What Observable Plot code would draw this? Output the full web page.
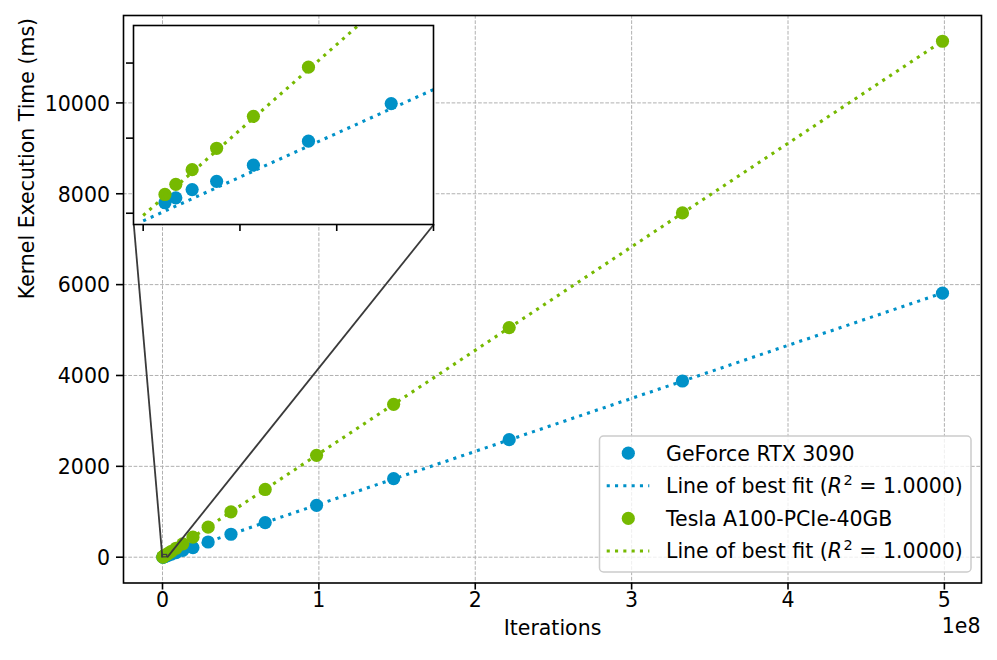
<!DOCTYPE html>
<html>
<head>
<meta charset="utf-8">
<script src="https://cdn.jsdelivr.net/npm/d3@7"></script>
<script src="https://cdn.jsdelivr.net/npm/@observablehq/plot@0.6"></script>
<style>
html, body { margin: 0; padding: 0; background: #fff; }
#wrap { position: relative; width: 997px; height: 660px; font-family: "DejaVu Sans", sans-serif; }
#wrap svg { position: absolute; overflow: visible; max-width: none; }
</style>
</head>
<body>
<div id="wrap"></div>
<script>
// ---------- data ----------
const iterations = [224900, 337300, 506000, 759000, 1139000, 1708000, 2563000, 3844000, 5766000, 8649000,
  12970000, 19460000, 29190000, 43790000, 65680000, 98520000, 147800000, 221700000, 332500000, 498800000];
const rtx3090Ms = [2.8, 4.1, 6.3, 8.5, 12.8, 19.2, 29.2, 44, 66.5, 100,
  150, 212, 334, 505, 762, 1142, 1728, 2588, 3878, 5811];
const a100Ms = [5.0, 7.7, 11.6, 17.3, 25.8, 38.9, 58.4, 87.5, 131, 197,
  295, 441, 661, 998, 1491, 2242, 3364, 5054, 7578, 11357];
const seriesNames = ["GeForce RTX 3090", "Tesla A100-PCIe-40GB"];
const seriesColors = ["#0091c8", "#76b900"];
const xTicks = [0, 1e8, 2e8, 3e8, 4e8, 5e8];
const yTicks = [0, 2000, 4000, 6000, 8000, 10000];
const insetXTicks = [0, 1e6, 2e6, 3e6];
const insetYTicks = [0, 20, 40];
const xLabel = "Iterations";
const yLabel = "Kernel Execution Time (ms)";
const offsetLabel = "1e8";

// ---------- layout ----------
const W = 997, H = 660;
const mL = 123, mR = 16, mT = 15, mB = 77.5;
const xDomain = [-2.494e7, 5.2374e8];
const yDomain = [-568, 11924];
const insetXDomain = [-1e5, 3e6];
const insetYDomain = [-3, 50];
const insetLeft = 133.3, insetTop = 25, insetW = 300, insetH = 199;
const iM = {l: 10, r: 1, t: 1, b: 10};
const FS = 20.5;

const gridStyle = {stroke: "#b0b0b0", strokeOpacity: 1, strokeWidth: 1, strokeDasharray: "3.7,1.6"};
const dotR = 6.6;
const fitStyle = {strokeWidth: 3.1, strokeDasharray: "3.1,5.2", strokeLinecap: "butt"};

// ---------- derived tables ----------
const series = [rtx3090Ms, a100Ms].map((vals, i) => {
  const pts = iterations.map((x, j) => ({iter: x, ms: vals[j], name: seriesNames[i]}));
  const mx = d3.mean(pts, d => d.iter), my = d3.mean(pts, d => d.ms);
  let sxy = 0, sxx = 0, syy = 0;
  for (const d of pts) { sxy += (d.iter - mx) * (d.ms - my); sxx += (d.iter - mx) ** 2; syy += (d.ms - my) ** 2; }
  const slope = sxy / sxx, icpt = my - slope * mx;
  const r2 = (sxy * sxy) / (sxx * syy);
  const fit = [0, d3.max(iterations)].map(x => ({iter: x, ms: icpt + slope * x}));
  return {name: seriesNames[i], color: seriesColors[i], pts, fit, r2};
});

const seriesMarks = (clip) => series.flatMap(s => [
  Plot.dot(s.pts, {x: "iter", y: "ms", r: dotR, fill: s.color, stroke: "none", clip}),
  Plot.line(s.fit, {x: "iter", y: "ms", stroke: s.color, ...fitStyle, clip})
]);

// main scales for connector conversion (same mapping as Plot)
const xs = d3.scaleLinear(xDomain, [mL, W - mR]);
const ys = d3.scaleLinear(yDomain, [H - mB, mT]);
const insetBottom = insetTop + insetH;
const connectors = [
  {x1: xs.invert(insetLeft), y1: ys.invert(insetBottom), x2: insetXDomain[0], y2: insetYDomain[0]},
  {x1: xs.invert(insetLeft + insetW), y1: ys.invert(insetBottom), x2: insetXDomain[1], y2: insetYDomain[0]}
];
const zoomBox = [{x1: insetXDomain[0], x2: insetXDomain[1], y1: insetYDomain[0], y2: insetYDomain[1]}];

// ---------- main chart ----------
const main = Plot.plot({
  width: W, height: H,
  marginLeft: mL, marginRight: mR, marginTop: mT, marginBottom: mB,
  style: {fontFamily: "DejaVu Sans, sans-serif", fontSize: FS + "px", background: "transparent", color: "black"},
  x: {domain: xDomain},
  y: {domain: yDomain},
  marks: [
    Plot.gridX({ticks: xTicks, ...gridStyle}),
    Plot.gridY({ticks: yTicks, ...gridStyle}),
    ...seriesMarks(false),
    Plot.rect(zoomBox, {x1: "x1", x2: "x2", y1: "y1", y2: "y2", fill: "none", stroke: "#3f3f3f", strokeWidth: 1.2}),
    Plot.link(connectors, {x1: "x1", y1: "y1", x2: "x2", y2: "y2", stroke: "#3a3a3a", strokeWidth: 1.8}),
    Plot.frame({stroke: "black", strokeWidth: 1.6}),
    Plot.axisX({ticks: xTicks, tickSize: 7, tickFormat: () => "", label: null, strokeWidth: 1.6}),
    Plot.axisY({ticks: yTicks, tickSize: 7, tickFormat: () => "", label: null, strokeWidth: 1.6}),
    Plot.text(xTicks, {x: d => d, frameAnchor: "bottom", dy: 24, text: d => String(d / 1e8), fill: "black"}),
    Plot.text(yTicks, {y: d => d, frameAnchor: "left", textAnchor: "end", dx: -13.5, dy: 1.2, text: d => String(d), fill: "black"}),
    Plot.text([xLabel], {frameAnchor: "bottom", dy: 52, text: d => d, fill: "black"}),
    Plot.text([yLabel], {frameAnchor: "left", rotate: -90, dx: -96.5, text: d => d, fill: "black"}),
    Plot.text([offsetLabel], {frameAnchor: "bottom-right", textAnchor: "end", dx: -1, dy: 50, text: d => d, fill: "black"})
  ]
});
main.style.left = "0px"; main.style.top = "0px";
document.getElementById("wrap").appendChild(main);

// ---------- inset ----------
const inset = Plot.plot({
  width: iM.l + insetW + iM.r, height: iM.t + insetH + iM.b,
  marginLeft: iM.l, marginRight: iM.r, marginTop: iM.t, marginBottom: iM.b,
  style: {background: "transparent", color: "black"},
  x: {domain: insetXDomain},
  y: {domain: insetYDomain},
  marks: [
    Plot.frame({fill: "white", stroke: "none"}),
    ...seriesMarks(true),
    Plot.frame({stroke: "black", strokeWidth: 1.6}),
    Plot.axisX({ticks: insetXTicks, tickSize: 7, tickFormat: () => "", label: null, strokeWidth: 1.6}),
    Plot.axisY({ticks: insetYTicks, tickSize: 7, tickFormat: () => "", label: null, strokeWidth: 1.6})
  ]
});
inset.style.left = (insetLeft - iM.l) + "px";
inset.style.top = (insetTop - iM.t) + "px";
document.getElementById("wrap").appendChild(inset);

// ---------- legend ----------
const leg = d3.create("svg").attr("width", W).attr("height", H)
  .style("left", "0px").style("top", "0px")
  .attr("font-family", "DejaVu Sans, sans-serif").attr("font-size", FS);
leg.append("rect").attr("x", 599.5).attr("y", 436).attr("width", 371.5).attr("height", 136)
  .attr("rx", 4).attr("fill", "white").attr("fill-opacity", 0.8).attr("stroke", "#cccccc").attr("stroke-width", 1.5);
const baselines = [460.5, 493.1, 525.7, 558.3];
series.forEach((s, i) => {
  const b1 = baselines[2 * i], b2 = baselines[2 * i + 1];
  leg.append("circle").attr("cx", 628.3).attr("cy", b1 - 7.3).attr("r", dotR).attr("fill", s.color);
  leg.append("text").attr("x", 666).attr("y", b1).text(s.name);
  leg.append("line").attr("x1", 606.7).attr("x2", 649.3).attr("y1", b2 - 7.3).attr("y2", b2 - 7.3)
    .attr("stroke", s.color).attr("stroke-width", fitStyle.strokeWidth).attr("stroke-dasharray", fitStyle.strokeDasharray);
  const t = leg.append("text").attr("x", 666).attr("y", b2);
  t.append("tspan").text("Line of best fit (");
  t.append("tspan").attr("font-style", "italic").text("R");
  t.append("tspan").attr("dy", -8).attr("font-size", 14.5).attr("dx", 1.5).text("2");
  t.append("tspan").attr("dy", 8).text(" = " + s.r2.toFixed(4) + ")");
});
document.getElementById("wrap").appendChild(leg.node());
</script>
</body>
</html>
